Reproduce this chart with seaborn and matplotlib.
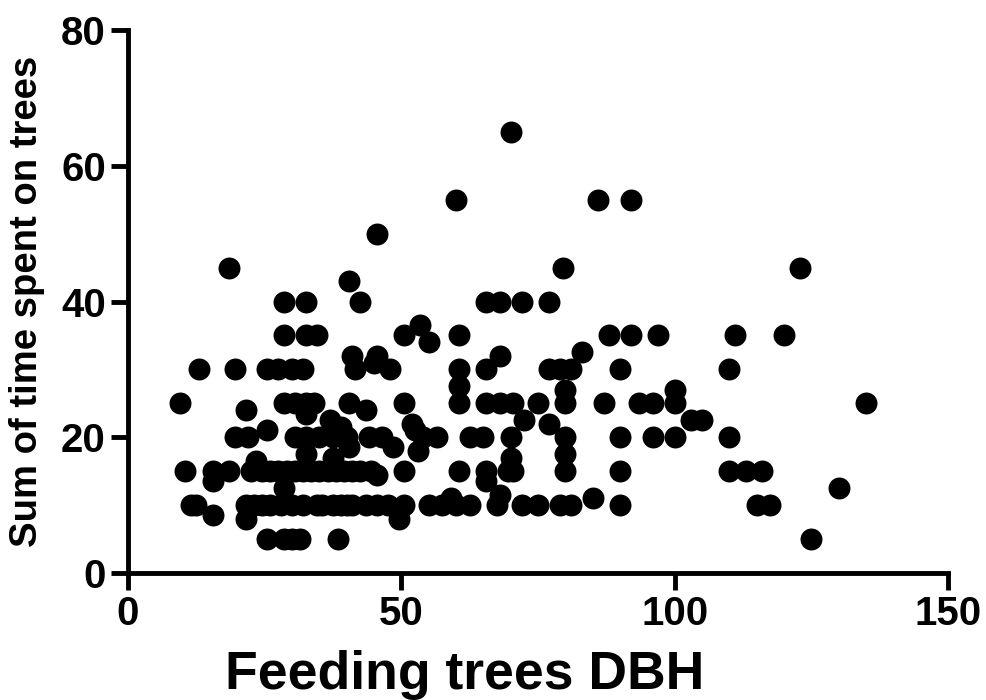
import matplotlib
matplotlib.use("Agg")
import matplotlib.pyplot as plt
import seaborn as sns
import pandas as pd

# Feeding trees DBH (x) and sum of time spent on trees (y)
dbh = [
    70,
    60, 86, 92,
    45.5,
    18.5, 79.5, 123,
    40.5,
    28.5, 32.5, 42.5, 65.5, 68, 72, 77,
    28.5, 32.5, 34.5, 50.5, 60.5, 88, 92, 97, 111, 120,
    53.5, 55,
    41, 45.5, 68, 83,
    45,
    13, 19.5, 25.5, 27.5, 30, 32, 41.5, 48, 60.5, 65.5, 77, 79, 81, 90, 110,
    60.5, 80, 100,
    9.5, 28.5, 30.5, 32.5, 34, 40.5, 50.5, 60.5, 65.5, 68, 70.5, 75, 80, 87, 93.5, 96, 100, 135,
    21.5, 43.5,
    32.5, 37, 39, 52, 72.5, 77, 103, 105,
    25.5, 52.5,
    19.5, 22, 30.5, 32.5, 35, 37.5, 40, 44, 46.5, 54, 56.5, 62.5, 65, 70, 80, 90, 96, 100, 110,
    48.5, 53, 40.5,
    32.5, 37.5, 70, 80,
    23.5,
    10.5, 15.5, 18.5, 22.5, 24.5, 26, 27.5, 29, 30.5, 32, 33.5, 35, 36.5, 38, 39.5, 41, 42.5, 44.5,
    50.5, 60.5, 65.5, 69.5, 70.5, 80, 90, 110, 113, 116,
    15.5, 45.5, 65.5,
    28.5, 130,
    59, 68, 85,
    11.5, 12.5, 21.5, 23, 24.5, 26, 28, 30, 32, 34.5, 35.5, 37.5, 39, 40, 41, 43.5, 45.5, 47.5,
    50.5, 55, 57.5, 60, 62.5, 67.5, 72, 75, 79, 81, 90, 115, 117.5,
    15.5, 21.5, 49.5,
    25.5, 28.5, 30, 31.5, 38.5, 125,
]
time_spent = [
    65,
    55, 55, 55,
    50,
    45, 45, 45,
    43,
    40, 40, 40, 40, 40, 40, 40,
    35, 35, 35, 35, 35, 35, 35, 35, 35, 35,
    36.5, 34,
    32, 32, 32, 32.5,
    31,
    30, 30, 30, 30, 30, 30, 30, 30, 30, 30, 30, 30, 30, 30, 30,
    27.5, 27, 27,
    25, 25, 25, 25, 25, 25, 25, 25, 25, 25, 25, 25, 25, 25, 25, 25, 25, 25,
    24, 24,
    23.5, 22.5, 21.5, 22, 22.5, 22, 22.5, 22.5,
    21, 21,
    20, 20, 20, 20, 20, 20, 20, 20, 20, 20, 20, 20, 20, 20, 20, 20, 20, 20, 20,
    18.5, 18, 18.5,
    17.5, 17, 17, 17.5,
    16.5,
    15, 15, 15, 15, 15, 15, 15, 15, 15, 15, 15, 15, 15, 15, 15, 15, 15, 15,
    15, 15, 15, 15, 15, 15, 15, 15, 15, 15,
    13.5, 14.5, 13.5,
    12.5, 12.5,
    11, 11.5, 11,
    10, 10, 10, 10, 10, 10, 10, 10, 10, 10, 10, 10, 10, 10, 10, 10, 10, 10,
    10, 10, 10, 10, 10, 10, 10, 10, 10, 10, 10, 10, 10,
    8.5, 8, 8,
    5, 5, 5, 5, 5, 5,
]

x_ticks = [0, 50, 100, 150]
y_ticks = [0, 20, 40, 60, 80]

df = pd.DataFrame({"Feeding trees DBH": dbh, "Sum of time spent on trees": time_spent})

sns.set_style("ticks")
plt.rcParams["font.family"] = ["Liberation Sans", "DejaVu Sans"]
plt.rcParams["font.weight"] = "bold"
plt.rcParams["text.color"] = "black"
plt.rcParams["axes.labelcolor"] = "black"
plt.rcParams["xtick.color"] = "black"
plt.rcParams["ytick.color"] = "black"

fig = plt.figure(figsize=(9.86, 7.0), dpi=100)
ax = fig.add_axes([0.1298, 0.1814, 0.8317, 0.7757])

sns.scatterplot(data=df, x="Feeding trees DBH", y="Sum of time spent on trees",
                ax=ax, color="black", s=250, linewidth=0, clip_on=False)

ax.set_xlim(0, 150)
ax.set_ylim(0, 80)
ax.set_xticks(x_ticks)
ax.set_yticks(y_ticks)
ax.set_xticklabels([str(t) for t in x_ticks], fontsize=29, fontweight="bold", color="black")
ax.set_yticklabels([str(t) for t in y_ticks], fontsize=29, fontweight="bold", color="black")
ax.tick_params(axis="both", length=12, width=3.5, pad=4, color="black")

for side in ["top", "right"]:
    ax.spines[side].set_visible(False)
for side in ["left", "bottom"]:
    ax.spines[side].set_linewidth(3.5)
    ax.spines[side].set_color("black")

ax.set_xlabel("Feeding trees DBH", fontsize=38.5, fontweight="bold", color="black")
ax.xaxis.set_label_coords(0.411, -0.142)
ax.set_ylabel("Sum of time spent on trees", fontsize=27.5, fontweight="bold", color="black")
ax.yaxis.set_label_coords(-0.101, 0.5)

fig.savefig("out.png", dpi=100)
